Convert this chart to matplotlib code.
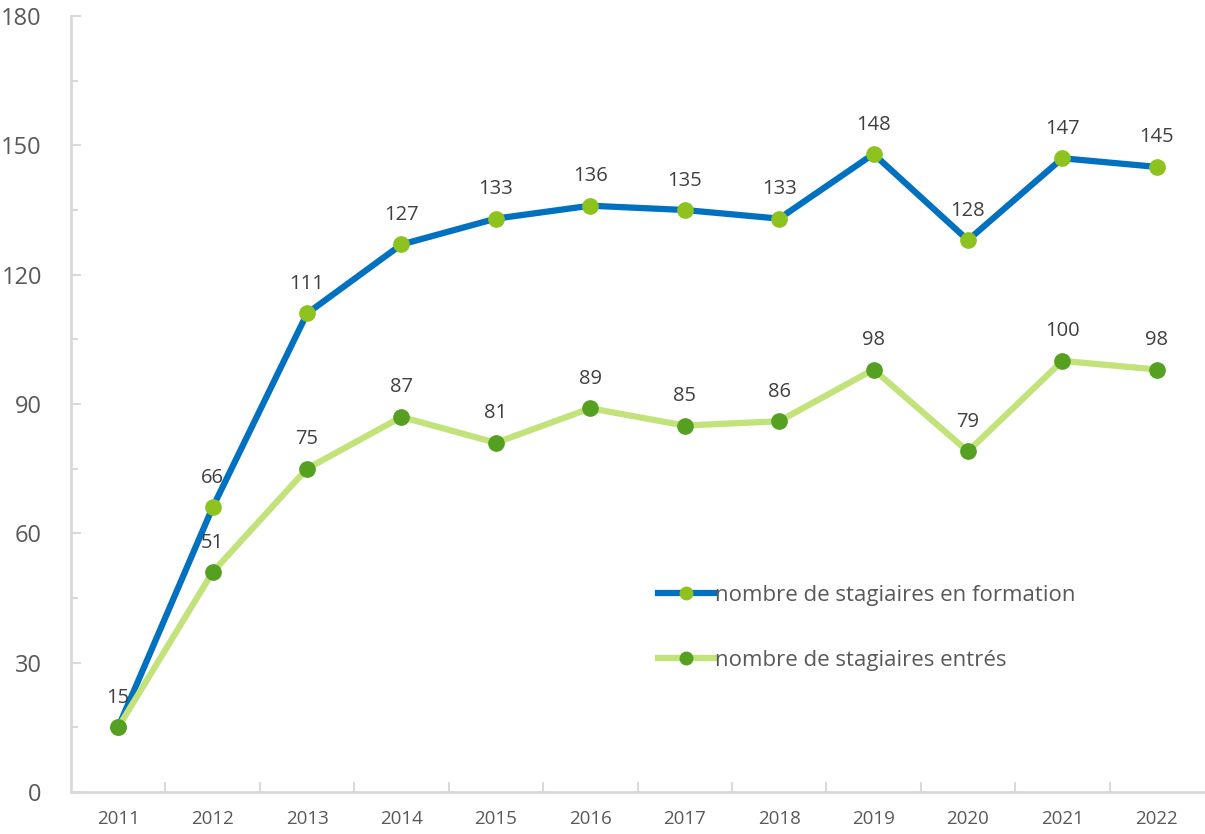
import matplotlib.pyplot as plt
from matplotlib.ticker import MultipleLocator

plt.rcParams['font.family'] = ['Open Sans', 'DejaVu Sans']

years = ['2011', '2012', '2013', '2014', '2015', '2016', '2017', '2018',
         '2019', '2020', '2021', '2022']
en_formation = [15, 66, 111, 127, 133, 136, 135, 133, 148, 128, 147, 145]
entres = [15, 51, 75, 87, 81, 89, 85, 86, 98, 79, 100, 98]

fig = plt.figure(figsize=(12.05, 8.34), dpi=100)
ax = fig.add_axes([71 / 1205, 42 / 834, 1133 / 1205, 776 / 834])

x = list(range(len(years)))

ax.plot(x, en_formation, color='#0070C0', lw=4.5, marker='o', ms=11,
        markerfacecolor='#8DC21F', markeredgecolor='#8DC21F',
        label='nombre de stagiaires en formation', zorder=3)
ax.plot(x, entres, color='#C2E27A', lw=4.5, marker='o', ms=11,
        markerfacecolor='#55A020', markeredgecolor='#55A020',
        label='nombre de stagiaires entrés', zorder=4)

# data labels
for i, v in enumerate(en_formation):
    if i == 0:
        continue
    ax.annotate(str(v), (i, v), xytext=(0, 14), textcoords='offset points',
                ha='center', va='bottom', fontsize=14.5, color='#404040')
for i, v in enumerate(entres):
    ax.annotate(str(v), (i, v), xytext=(0, 14), textcoords='offset points',
                ha='center', va='bottom', fontsize=14.5, color='#404040')

ax.set_xlim(-0.5, len(years) - 0.5)
ax.set_ylim(0, 180)
ax.set_xticks(x)
ax.set_xticklabels(years)
ax.set_xticks([i + 0.5 for i in x[:-1]], minor=True)
ax.yaxis.set_major_locator(MultipleLocator(30))
ax.yaxis.set_minor_locator(MultipleLocator(15))

ax.tick_params(axis='x', which='major', length=0, labelsize=13.5,
               labelcolor='#595959', pad=13)
ax.tick_params(axis='x', which='minor', direction='in', length=7,
               width=1.5, color='#D9D9D9')
ax.tick_params(axis='y', which='major', direction='in', length=7, width=1.5,
               color='#D9D9D9', labelsize=17, labelcolor='#595959', pad=21)
ax.tick_params(axis='y', which='minor', direction='in', length=5, width=1.5,
               color='#D9D9D9')

for s in ['top', 'right']:
    ax.spines[s].set_visible(False)
for s in ['left', 'bottom']:
    ax.spines[s].set_color('#D9D9D9')
    ax.spines[s].set_linewidth(2)

leg = ax.legend(loc='lower left', bbox_to_anchor=(0.5, 0.13), frameon=False,
                fontsize=16, handlelength=2.6, handletextpad=0.0,
                labelspacing=2.0, labelcolor='#595959')
for h in leg.legend_handles:
    h.set_markersize(9)

fig.savefig('out.png', dpi=100)
